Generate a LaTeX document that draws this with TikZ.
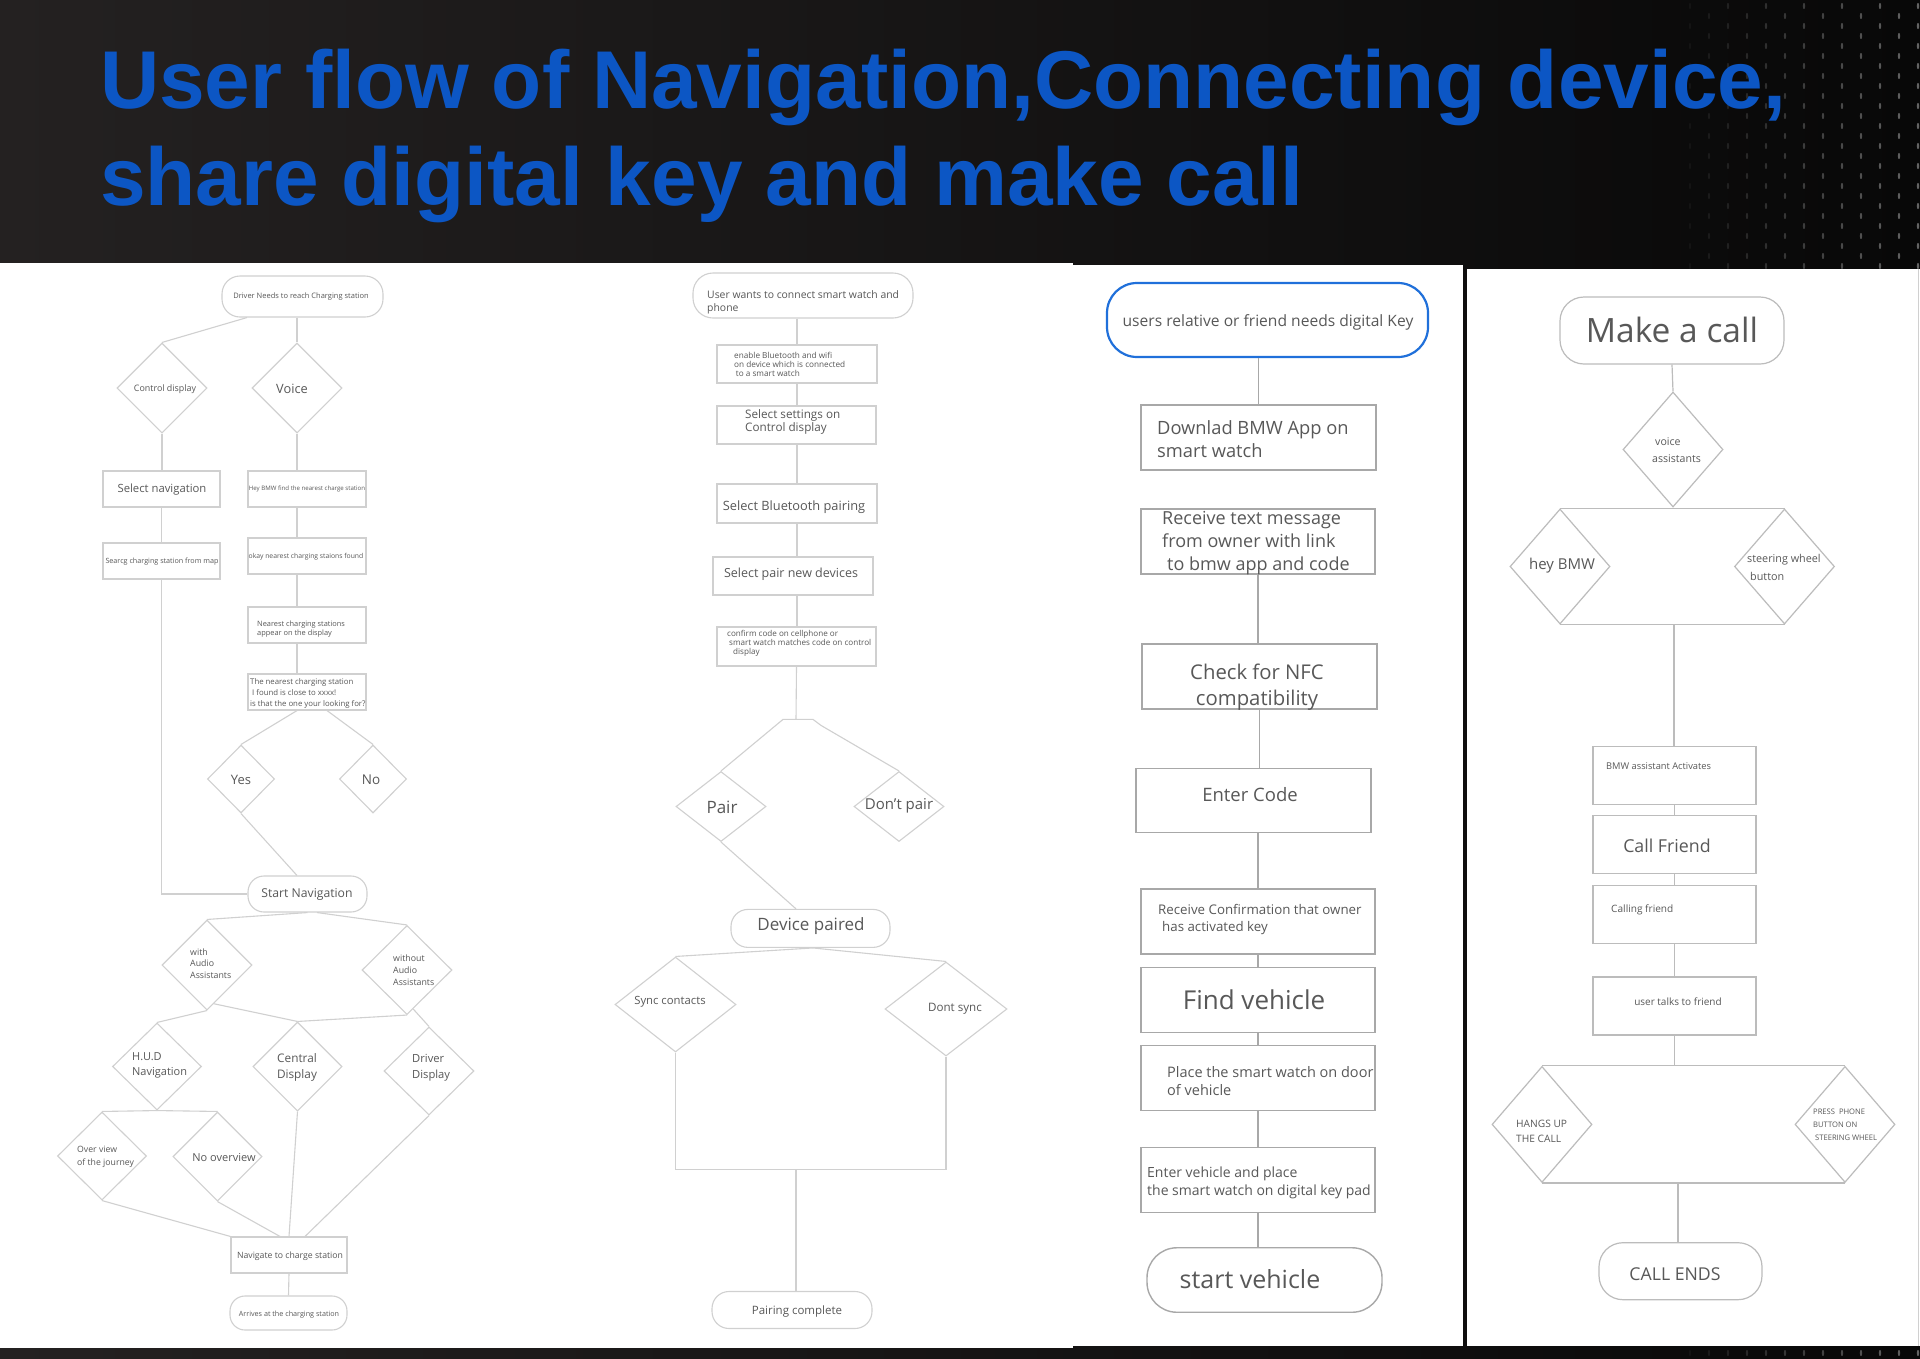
\documentclass[tikz,border=0pt]{standalone}
\usepackage{fontspec}
\setmainfont{Open Sans}
\newfontfamily\titlefont{Liberation Sans}
\usetikzlibrary{shapes.geometric,calc}
\definecolor{bgA}{RGB}{36,33,33}
\definecolor{bgB}{RGB}{8,8,8}
\definecolor{ttl}{RGB}{12,86,196}
\definecolor{lg}{RGB}{208,208,208}
\definecolor{lg2}{RGB}{188,188,188}
\definecolor{mg}{RGB}{168,168,168}
\definecolor{txc}{RGB}{88,88,88}
\definecolor{kblue}{RGB}{32,112,218}
\newcommand{\fsz}[2]{\fontsize{#1}{#2}\selectfont}
\tikzset{
  ln/.style={draw=lg, line width=1.1pt},
  lnd/.style={draw=mg, line width=1.4pt},
  lnf/.style={draw=lg2, line width=1.2pt},
  bx/.style={rectangle, draw=lg, line width=1.1pt, fill=white, inner sep=0pt},
  bxd/.style={rectangle, draw=mg, line width=1.4pt, fill=white, inner sep=0pt},
  bxf/.style={rectangle, draw=lg2, line width=1.2pt, fill=white, inner sep=0pt},
  dia/.style={diamond, draw=lg, line width=1.1pt, fill=white, inner sep=0pt, aspect=1},
  diaf/.style={diamond, draw=lg2, line width=1.2pt, fill=white, inner sep=0pt, aspect=1},
  tx/.style={text=txc, inner sep=0pt, align=center},
  txl/.style={text=txc, inner sep=0pt, align=left, anchor=west},
}
\begin{document}
\begin{tikzpicture}[x=1pt,y=-1pt]
\useasboundingbox (0,0) rectangle (1920,1358);
% background
\shade[left color=bgA, right color=bgB] (0,0) rectangle (1920,1358);
\foreach \i in {0,...,12}{
  \foreach \j in {0,...,13}{
    \pgfmathsetmacro{\op}{0.04+0.028*\i}
    \fill[white, opacity=\op] ({1690+19*\i},{6+20*\j+10*mod(\i,2)}) ellipse (1.2 and 3.2);
  }
  \pgfmathsetmacro{\op}{0.04+0.028*\i}
  \fill[white, opacity=\op] ({1690+19*\i},{1353}) ellipse (1.2 and 3.2);
}
% white panels
\fill[white] (0,263) rectangle (1073,1348);
\fill[white] (1073,265) rectangle (1463,1346);
\fill[white] (1467,269) rectangle (1920,1346);
\draw[lg, line width=1pt] (1918,269) -- (1918,1346);

% title
\node[anchor=base west, text=ttl, inner sep=0pt, font=\titlefont\bfseries\fsz{82}{90}] (t1) at (100,108) {User flow of Navigation,Connecting device,};
\node[anchor=base west, text=ttl, inner sep=0pt, font=\titlefont\bfseries\fsz{82}{90}] (t2) at (100,205) {share digital key and make call};

% ---------------- panel 1: navigation
\node[bx, rounded corners=18pt, minimum width=161pt, minimum height=41pt] (ps) at (302.5,296.5) {};
\node[dia, minimum width=90pt, minimum height=90pt] (cd) at (162,388) {};
\node[dia, minimum width=90pt, minimum height=90pt] (vo) at (297,388) {};
\node[bx, minimum width=117pt, minimum height=36pt] (sn) at (161.5,489) {};
\node[bx, minimum width=117pt, minimum height=36pt] (sc) at (161.5,561) {};
\node[bx, minimum width=118pt, minimum height=36pt] (hb) at (307,489) {};
\node[bx, minimum width=118pt, minimum height=36pt] (ok) at (307,556) {};
\node[bx, minimum width=118pt, minimum height=36pt] (ne) at (307,625) {};
\node[bx, minimum width=118pt, minimum height=36pt] (qu) at (307,692) {};
\node[dia, minimum width=67pt, minimum height=68pt] (ye) at (241,779) {};
\node[dia, minimum width=67pt, minimum height=68pt] (no) at (373,779) {};
\node[bx, rounded corners=16pt, minimum width=119pt, minimum height=36pt] (stn) at (307.5,894) {};
\node[dia, minimum width=90pt, minimum height=90pt] (wi) at (207,965) {};
\node[dia, minimum width=90pt, minimum height=89pt] (wo) at (407,970) {};
\node[dia, minimum width=89pt, minimum height=87pt] (hu) at (157,1066.5) {};
\node[dia, minimum width=89pt, minimum height=89pt] (cen) at (297.5,1066.5) {};
\node[dia, minimum width=90pt, minimum height=88pt] (dr) at (429,1071) {};
\node[dia, minimum width=89pt, minimum height=88pt] (ov) at (102,1156) {};
\node[dia, minimum width=89pt, minimum height=89pt] (nov) at (217.5,1156.5) {};
\node[bx, minimum width=116pt, minimum height=36pt] (nav) at (289,1255) {};
\node[bx, rounded corners=15pt, minimum width=117pt, minimum height=34pt] (arr) at (288.5,1313) {};

\draw[ln] ([xshift=-55.5pt]ps.south) -- (cd.north);
\draw[ln] (vo.north |- ps.south) -- (vo.north);
\draw[ln] (cd.south) -- (cd.south |- sn.north);
\draw[ln] (sn.south) -- (sc.north);
\draw[ln] (sc.south) |- (stn.west);
\draw[ln] (vo.south) -- (vo.south |- hb.north);
\draw[ln] (vo.south |- hb.south) -- (vo.south |- ok.north);
\draw[ln] (vo.south |- ok.south) -- (vo.south |- ne.north);
\draw[ln] (vo.south |- ne.south) -- (vo.south |- qu.north);
\draw[ln] ([xshift=-10pt]qu.south) -- (ye.north);
\draw[ln] ([xshift=20pt]qu.south) -- (no.north);
\draw[ln] (ye.south) -- ([xshift=-10.5pt]stn.north);
\draw[ln] (stn.south) -- (wi.north);
\draw[ln] ([xshift=9.5pt]stn.south) -- (wo.north);
\draw[ln] (wi.south) -- (hu.north);
\draw[ln] (wi.-80) -- (cen.north);
\draw[ln] (wo.south) -- (cen.north);
\draw[ln] (wo.-81) -- (dr.north);
\draw[ln] (hu.south) -- (ov.north);
\draw[ln] (hu.south) -- (nov.north);
\draw[ln] (ov.south) -- (nav.north west);
\draw[ln] (nov.south) -- ([xshift=-9pt]nav.north);
\draw[ln] (cen.south) -- (nav.north);
\draw[ln] (dr.south) -- ([xshift=16pt]nav.north);
\draw[ln] (nav.south) -- (arr.north);

\node[tx, font=\fsz{7.5}{9}] (tps) at (301,297) {Driver Needs to reach Charging station};
\node[tx, font=\fsz{8.9}{10}] (tcd) at (165,389) {Control display};
\node[tx, font=\fsz{12.8}{15}] (tvo) at (292,389) {Voice};
\node[tx, font=\fsz{11.3}{13}] (tsn) at (162,490) {Select navigation};
\node[tx, font=\fsz{7.2}{8}] (tsc) at (162,562) {Searcg charging station from map};
\node[tx, font=\fsz{6.1}{7}] (thb) at (307,489) {Hey BMW find the nearest charge station};
\node[tx, font=\fsz{6.8}{8}] (tok) at (306,557) {okay nearest charging staions found};
\node[txl, font=\fsz{7.4}{9.7}] (tne) at (257,629) {Nearest charging stations\\appear on the display};
\node[txl, font=\fsz{7.8}{11}] (tqu) at (250,693) {The nearest charging station\\\hspace*{2pt}I found is close to xxxx!\\is that the one your looking for?};
\node[tx, font=\fsz{13}{15}] (tye) at (241,780) {Yes};
\node[tx, font=\fsz{13.5}{15}] (tno) at (371,780) {No};
\node[tx, font=\fsz{12.2}{14}] (tstn) at (307,894) {Start Navigation};
\node[txl, font=\fsz{8.8}{11.7}] (twi) at (190,963.5) {with\\Audio\\Assistants};
\node[txl, font=\fsz{8.8}{11.7}] (two) at (393,970) {without\\Audio\\Assistants};
\node[txl, font=\fsz{11}{15}] (thu) at (132,1065.5) {H.U.D\\Navigation};
\node[tx, font=\fsz{11.8}{16.7}] (tcen) at (297,1067.5) {Central\\Display};
\node[txl, font=\fsz{11.2}{16}] (tdr) at (412,1067.5) {Driver\\Display};
\node[txl, font=\fsz{8.7}{12.7}] (tov) at (77,1157) {Over view\\of the journey};
\node[tx, font=\fsz{11}{13}] (tnov) at (224,1158) {No overview};
\node[tx, font=\fsz{8.7}{10}] (tnav) at (290,1256) {Navigate to charge station};
\node[tx, font=\fsz{7.2}{8}] (tarr) at (289,1315) {Arrives at the charging station};

% ---------------- panel 2: connecting device
\node[bx, rounded corners=20pt, minimum width=220pt, minimum height=45pt] (bs) at (803,295.5) {};
\node[bx, minimum width=160pt, minimum height=38pt] (b1) at (797,364) {};
\node[bx, minimum width=159pt, minimum height=38pt] (b2) at (796.5,425) {};
\node[bx, minimum width=160pt, minimum height=39pt] (b3) at (797,503.5) {};
\node[bx, minimum width=160pt, minimum height=38pt] (b4) at (793,576) {};
\node[bx, minimum width=159pt, minimum height=39pt] (b5) at (796.5,646.5) {};
\node[dia, minimum width=90pt, minimum height=70pt] (pa) at (721,806.5) {};
\node[dia, minimum width=90pt, minimum height=70pt] (dp) at (899,806.5) {};
\node[bx, rounded corners=17pt, minimum width=159pt, minimum height=38pt] (dv) at (810.5,928.4) {};
\node[dia, minimum width=121pt, minimum height=95pt] (sy) at (675.5,1004.5) {};
\node[dia, minimum width=122pt, minimum height=94pt] (ds) at (946,1009) {};
\node[bx, rounded corners=17pt, minimum width=160pt, minimum height=37pt] (pc) at (792,1310) {};
\coordinate (j1) at (796,719.4);
\coordinate (j2) at (796,1169.2);

\draw[ln] (b1.north |- bs.south) -- (b1.north);
\draw[ln] (b1.south) -- (b1.south |- b2.north);
\draw[ln] (b1.south |- b2.south) -- (b1.south |- b3.north);
\draw[ln] (b3.south) -- (b3.south |- b4.north);
\draw[ln] (b3.south |- b4.south) -- (b3.south |- b5.north);
\draw[ln] (b5.south) -- (j1);
\draw[ln] (j1) -- ++(-13,0) -- (pa.north);
\draw[ln] (j1) -- ++(17,0) -- ++(8,6) -- (dp.north);
\draw[ln] (pa.south) -- (j1 |- dv.north);
\draw[ln] ([xshift=2.5pt]dv.south) -- (sy.north);
\draw[ln] ([xshift=2.5pt]dv.south) -- (ds.north);
\draw[ln] (sy.south) |- (j2) -| (ds.south);
\draw[ln] (j2) -- (j2 |- pc.north);

\node[txl, font=\fsz{10.4}{13}] (tbs) at (707,302.5) {User wants to connect smart watch and\\phone};
\node[txl, font=\fsz{8.2}{8.7}] (tb1) at (734,364.5) {enable Bluetooth and wifi\\on device which is connected\\\hspace*{1.7pt}to a smart watch};
\node[txl, font=\fsz{11.7}{13.5}] (tb2) at (745,422) {Select settings on\\Control display};
\node[tx, font=\fsz{12.8}{14}] (tb3) at (794,507) {Select Bluetooth pairing};
\node[tx, font=\fsz{12.5}{14}] (tb4) at (791,574) {Select pair new devices};
\node[txl, font=\fsz{8.1}{9.3}] (tb5) at (727,643.5) {confirm code on cellphone or\\\hspace*{2pt}smart watch matches code on control\\\hspace*{6pt}display};
\node[tx, font=\fsz{17}{19}] (tpa) at (722,807) {Pair};
\node[tx, font=\fsz{15}{17}] (tdp) at (899,805.6) {Don't pair};
\node[tx, font=\fsz{17}{19}] (tdv) at (811,926) {Device paired};
\node[tx, font=\fsz{11.3}{13}] (tsy) at (670,1002) {Sync contacts};
\node[tx, font=\fsz{11.6}{13}] (tds) at (955,1008.8) {Dont sync};
\node[tx, font=\fsz{11.5}{13}] (tpc) at (797,1311.4) {Pairing complete};

% ---------------- panel 3: digital key
\node[rectangle, draw=kblue, line width=2.2pt, fill=white, rounded corners=30pt, inner sep=0pt, minimum width=321pt, minimum height=74pt] (c0) at (1267.5,320) {};
\node[bxd, minimum width=235pt, minimum height=65pt] (c1) at (1258.5,437.5) {};
\node[bxd, minimum width=234pt, minimum height=65pt] (c2) at (1258,541.5) {};
\node[bxd, minimum width=235pt, minimum height=65pt] (c3) at (1259.5,676.5) {};
\node[bxd, minimum width=235pt, minimum height=64.5pt] (c4) at (1253.5,800.5) {};
\node[bxd, minimum width=234pt, minimum height=65pt] (c5) at (1258,921.4) {};
\node[bxd, minimum width=234pt, minimum height=65pt] (c6) at (1258,999.8) {};
\node[bxd, minimum width=234pt, minimum height=65pt] (c7) at (1258,1078) {};
\node[bxd, minimum width=234pt, minimum height=65pt] (c8) at (1258,1179.7) {};
\node[bxd, rounded corners=30pt, minimum width=235pt, minimum height=64.5pt] (c9) at (1264.5,1280) {};

\draw[lnd] (c1.north |- c0.south) -- (c1.north);
\draw[lnd] (c2.south) -- (c2.south |- c3.north);
\draw[lnd] (c3.south) -- (c3.south |- c4.north);
\draw[lnd] (c5.north |- c4.south) -- (c5.north);
\draw[lnd] (c5.south) -- (c6.north);
\draw[lnd] (c6.south) -- (c7.north);
\draw[lnd] (c7.south) -- (c8.north);
\draw[lnd] (c8.south) -- (c8.south |- c9.north);

\node[tx, font=\fsz{15.6}{18}] (tc0) at (1268,322) {users relative or friend needs digital Key};
\node[txl, font=\fsz{18.3}{23}] (tc1) at (1157,439.5) {Downlad BMW App on\\smart watch};
\node[txl, font=\fsz{18}{23}] (tc2) at (1162,543) {Receive text message\\from owner with link\\\hspace*{5pt}to bmw app and code};
\node[tx, font=\fsz{20.3}{26}] (tc3) at (1257,687) {Check for NFC\\compatibility};
\node[tx, font=\fsz{18.5}{21}] (tc4) at (1250,795) {Enter Code};
\node[txl, font=\fsz{13.3}{17.4}] (tc5) at (1158,919.7) {Receive Confirmation that owner\\\hspace*{4pt}has activated key};
\node[tx, font=\fsz{26}{30}] (tc6) at (1254,999.6) {Find vehicle};
\node[txl, font=\fsz{14.5}{18.6}] (tc7) at (1167,1081.2) {Place the smart watch on door\\of vehicle};
\node[txl, font=\fsz{14}{18}] (tc8) at (1147,1182.4) {Enter vehicle and place\\the smart watch on digital key pad};
\node[tx, font=\fsz{25}{28}] (tc9) at (1250,1278.7) {start vehicle};

% ---------------- panel 4: make a call
\node[bxf, rounded corners=24pt, minimum width=224pt, minimum height=67pt] (d0) at (1672,330.5) {};
\node[diaf, minimum width=100pt, minimum height=115pt] (d1) at (1673,449.5) {};
\node[diaf, minimum width=100pt, minimum height=115pt] (d2) at (1560,566.5) {};
\node[diaf, minimum width=100pt, minimum height=115pt] (d3) at (1784.5,566.5) {};
\node[bxf, minimum width=163pt, minimum height=58pt] (d4) at (1674.5,775.3) {};
\node[bxf, minimum width=163pt, minimum height=58pt] (d5) at (1674.5,844.4) {};
\node[bxf, minimum width=163pt, minimum height=58pt] (d6) at (1674.5,914.6) {};
\node[bxf, minimum width=163pt, minimum height=58pt] (d7) at (1674.5,1006) {};
\node[diaf, minimum width=100pt, minimum height=116pt] (d8) at (1542,1124.4) {};
\node[diaf, minimum width=100pt, minimum height=116pt] (d9) at (1845,1124.4) {};
\node[bxf, rounded corners=24pt, minimum width=163pt, minimum height=57pt] (d10) at (1680.5,1271.2) {};
\coordinate (j3) at (1674,625);
\coordinate (j4) at (1678,1182.4);

\draw[lnf] (d0.south) -- (d1.north);
\draw[lnf] (d2.north) -- (d3.north);
\draw[lnf] (d1.south) -- (d1.south |- d2.north);
\draw[lnf] (d2.south) -- (d3.south);
\draw[lnf] (j3) -- (j3 |- d4.north);
\draw[lnf] (d4.south) -- (d5.north);
\draw[lnf] (d5.south) -- (d6.north);
\draw[lnf] (d6.south) -- (d7.north);
\draw[lnf] (d7.south) -- (d7.south |- d8.north);
\draw[lnf] (d8.north) -- (d9.north);
\draw[lnf] (d8.south) -- (d9.south);
\draw[lnf] (j4) -- (j4 |- d10.north);

\node[tx, font=\fsz{33.5}{40}] (td0) at (1672,330) {Make a call};
\node[txl, font=\fsz{10.6}{17}] (td1) at (1652,450.5) {\hspace*{3pt}voice\\assistants};
\node[tx, font=\fsz{15}{18}] (td2) at (1562,566) {hey BMW};
\node[txl, font=\fsz{10.8}{18}] (td3) at (1747,567) {steering wheel\\\hspace*{3pt}button};
\node[txl, font=\fsz{9.3}{11}] (td4) at (1606,766.3) {BMW assistant Activates};
\node[tx, font=\fsz{17.8}{20}] (td5) at (1667,845.4) {Call Friend};
\node[txl, font=\fsz{10.1}{12}] (td6) at (1611,910) {Calling friend};
\node[tx, font=\fsz{10}{12}] (td7) at (1678,1001.6) {user talks to friend};
\node[txl, font=\fsz{10.2}{15.6}] (td8) at (1516,1131.3) {HANGS UP\\THE CALL};
\node[txl, font=\fsz{7.6}{13}] (td9) at (1813,1124.8) {PRESS\ \ PHONE\\BUTTON ON\\\hspace*{2pt}STEERING WHEEL};
\node[tx, font=\fsz{17.7}{20}] (td10) at (1675,1274) {CALL ENDS};
\end{tikzpicture}
\end{document}
